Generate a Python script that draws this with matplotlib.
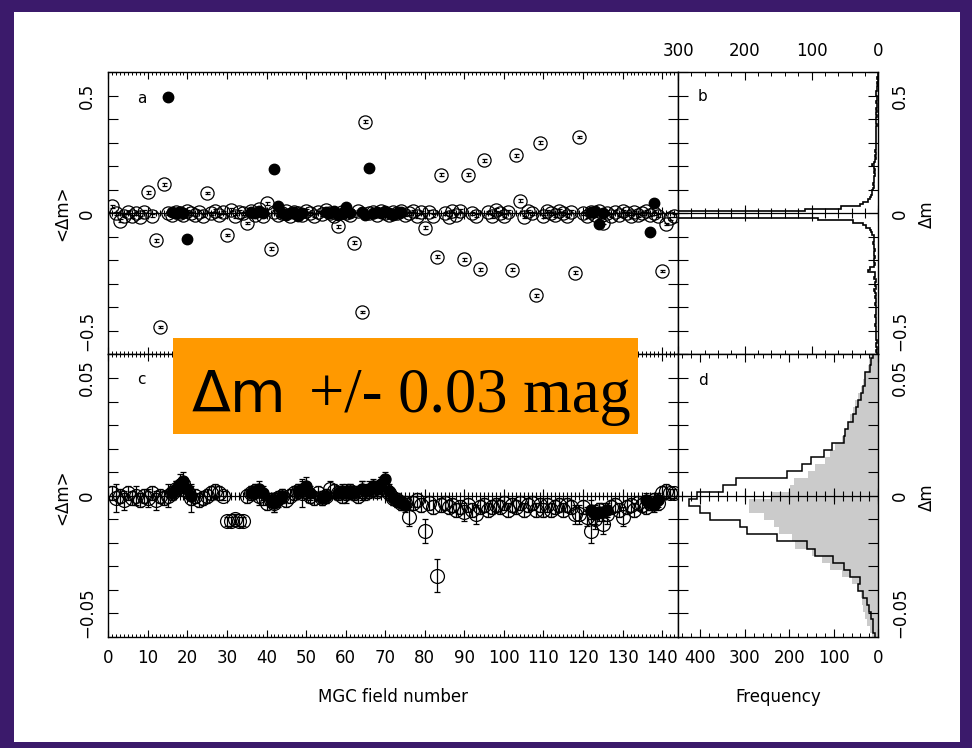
import numpy as np
import matplotlib
matplotlib.use("Agg")
import matplotlib.pyplot as plt
from matplotlib.patches import Rectangle
from matplotlib.ticker import MultipleLocator, FuncFormatter

# ---------------- data ----------------
# Panel a: <dm> per MGC field (open circles), fields 1..143
fields_a = list(range(1, 144))
dm_a_open = [
    0.030, 0.000, -0.031, -0.010, 0.005, -0.012, 0.000, -0.015, 0.008, 0.090,
    -0.010, -0.114, -0.483, 0.123, 0.000, -0.005, 0.005, 0.000, -0.008, 0.010,
    0.000, -0.006, 0.008, -0.010, 0.087, 0.000, 0.012, -0.008, 0.005, -0.092,
    0.015, -0.012, 0.008, 0.000, -0.041, 0.010, -0.005, 0.018, -0.010, 0.043,
    -0.150, 0.008, -0.006, 0.000, 0.010, -0.012, 0.005, 0.000, -0.008, 0.012,
    0.000, -0.010, 0.006, -0.004, 0.015, 0.000, -0.010, -0.055, 0.008, 0.000,
    -0.006, -0.124, 0.010, -0.419, 0.390, 0.000, 0.008, -0.005, 0.010, 0.000,
    -0.008, 0.005, 0.000, 0.012, -0.006, 0.000, 0.010, -0.012, 0.005, -0.060,
    0.008, -0.010, -0.185, 0.165, 0.000, -0.015, 0.010, -0.008, 0.012, -0.195,
    0.165, 0.000, -0.010, -0.238, 0.225, 0.005, -0.012, 0.015, 0.000, -0.010,
    0.008, -0.240, 0.247, 0.054, -0.015, 0.010, 0.000, -0.349, 0.300, -0.012,
    0.010, 0.000, -0.008, 0.012, 0.000, -0.010, 0.008, -0.252, 0.325, 0.000,
    -0.012, 0.006, -0.008, 0.010, -0.040, 0.000, -0.010, 0.008, -0.006, 0.010,
    0.000, -0.012, 0.005, -0.008, 0.000, 0.010, -0.006, 0.000, -0.010, -0.245,
    -0.045, -0.020, -0.010,
]
# Panel a: filled circles
fields_a_fill = [15, 16, 17, 18, 19, 20, 36, 37, 38, 39, 42, 43, 44, 45, 46, 47,
                 48, 49, 55, 56, 57, 58, 59, 60, 61, 64, 65, 66, 67, 68, 69, 70,
                 71, 72, 73, 74, 122, 123, 124, 125, 137, 138]
dm_a_fill = [0.496, 0.005, 0.000, 0.008, 0.000, -0.110, 0.005, 0.000, 0.010, 0.000,
             0.190, 0.030, 0.000, -0.005, 0.000, 0.005, -0.010, 0.000, 0.005, 0.000,
             0.010, -0.005, 0.000, 0.026, 0.000, 0.005, -0.005, 0.194, 0.000, 0.005,
             0.000, 0.010, 0.000, -0.005, 0.000, 0.005, 0.005, 0.010, -0.045, 0.000,
             -0.081, 0.043]

# Panel c: corrected <dm> per field (open circles) with errors
dm_c_open = [
    0.001, -0.001, 0.000, -0.002, 0.001, -0.001, 0.000, -0.002, 0.000, -0.001,
    0.001, -0.002, 0.000, -0.001, 0.000, 0.001, 0.003, 0.004, 0.005, 0.002,
    -0.001, 0.000, -0.002, -0.001, 0.000, 0.001, 0.002, 0.001, 0.000, -0.011,
    -0.011, -0.010, -0.011, -0.011, 0.000, 0.001, 0.002, 0.000, -0.001, -0.003,
    -0.002, -0.003, -0.001, 0.000, -0.002, 0.000, 0.001, 0.002, 0.001, 0.002,
    0.000, -0.001, 0.001, -0.001, 0.000, 0.003, 0.002, 0.001, 0.000, 0.001,
    0.002, 0.001, 0.000, 0.002, 0.001, 0.002, 0.003, 0.002, 0.004, 0.003,
    0.001, -0.001, -0.002, -0.003, -0.003, -0.009, -0.003, -0.002, -0.004, -0.015,
    -0.003, -0.005, -0.034, -0.004, -0.003, -0.005, -0.004, -0.006, -0.005, -0.007,
    -0.004, -0.006, -0.008, -0.005, -0.004, -0.006, -0.005, -0.004, -0.005, -0.003,
    -0.006, -0.004, -0.005, -0.003, -0.006, -0.004, -0.003, -0.006, -0.004, -0.006,
    -0.004, -0.006, -0.005, -0.004, -0.006, -0.004, -0.005, -0.008, -0.008, -0.005,
    -0.009, -0.015, -0.010, -0.006, -0.012, -0.008, -0.005, -0.004, -0.006, -0.009,
    -0.005, -0.004, -0.006, -0.003, -0.004, -0.005, -0.003, -0.002, -0.003, 0.001,
    0.002, 0.001, 0.001,
]
err_c_open = [
    0.003, 0.006, 0.003, 0.004, 0.003, 0.003, 0.004, 0.003, 0.003, 0.004,
    0.003, 0.004, 0.003, 0.003, 0.005, 0.003, 0.003, 0.003, 0.003, 0.003,
    0.006, 0.003, 0.003, 0.003, 0.003, 0.003, 0.003, 0.003, 0.002, 0.002,
    0.002, 0.002, 0.002, 0.002, 0.003, 0.003, 0.003, 0.004, 0.003, 0.003,
    0.003, 0.004, 0.003, 0.003, 0.003, 0.003, 0.003, 0.003, 0.006, 0.003,
    0.003, 0.003, 0.003, 0.003, 0.003, 0.003, 0.003, 0.003, 0.003, 0.004,
    0.003, 0.003, 0.003, 0.004, 0.003, 0.003, 0.003, 0.003, 0.004, 0.003,
    0.003, 0.003, 0.003, 0.003, 0.003, 0.004, 0.003, 0.003, 0.003, 0.005,
    0.003, 0.003, 0.007, 0.003, 0.003, 0.003, 0.003, 0.003, 0.003, 0.004,
    0.003, 0.003, 0.004, 0.003, 0.003, 0.003, 0.003, 0.003, 0.003, 0.003,
    0.003, 0.003, 0.003, 0.003, 0.003, 0.003, 0.003, 0.003, 0.003, 0.003,
    0.003, 0.003, 0.003, 0.003, 0.003, 0.003, 0.003, 0.004, 0.004, 0.003,
    0.004, 0.005, 0.004, 0.003, 0.0045, 0.004, 0.003, 0.003, 0.003, 0.004,
    0.003, 0.003, 0.003, 0.003, 0.003, 0.003, 0.003, 0.003, 0.003, 0.003,
    0.003, 0.002, 0.002,
]
# Panel c: filled circles
fields_c_fill = [16, 17, 18, 19, 20, 21, 36, 37, 38, 39, 41, 42, 43, 44, 48, 49,
                 50, 51, 54, 55, 58, 59, 60, 61, 62, 64, 65, 66, 67, 68, 69, 70,
                 71, 72, 73, 74, 75, 122, 123, 124, 125, 126, 136, 137, 138, 139]
dm_c_fill = [0.001, 0.003, 0.005, 0.006, 0.003, 0.000, 0.001, 0.002, 0.003, 0.001,
             -0.002, -0.003, -0.002, 0.000, 0.002, 0.003, 0.004, 0.001, -0.001, 0.000,
             0.001, 0.002, 0.001, 0.002, 0.001, 0.003, 0.002, 0.003, 0.004, 0.003,
             0.005, 0.007, 0.002, -0.001, -0.002, -0.003, -0.004, -0.006, -0.008, -0.007,
             -0.007, -0.006, -0.002, -0.003, -0.004, -0.002]
err_c_fill = [0.003, 0.003, 0.004, 0.004, 0.003, 0.004, 0.003, 0.003, 0.003, 0.003,
              0.003, 0.004, 0.003, 0.003, 0.003, 0.003, 0.004, 0.003, 0.003, 0.003,
              0.003, 0.003, 0.003, 0.003, 0.003, 0.003, 0.003, 0.003, 0.003, 0.003,
              0.003, 0.003, 0.003, 0.003, 0.003, 0.003, 0.003, 0.004, 0.004, 0.004,
              0.004, 0.003, 0.003, 0.003, 0.003, 0.003]

# Panel b: histogram of dm (bin width 0.01, -0.6 .. 0.6)
edges_b = [round(-0.60 + 0.01 * i, 2) for i in range(121)]
counts_b = [
    2, 3, 2, 4, 3, 2, 3, 4, 3, 3,
    4, 3, 5, 4, 3, 4, 5, 4, 3, 4,
    4, 5, 4, 3, 5, 4, 5, 6, 4, 5,
    5, 4, 6, 5, 5, 15, 12, 6, 5, 6,
    6, 5, 7, 6, 5, 7, 6, 8, 7, 6,
    7, 9, 11, 13, 18, 23, 38, 90, 320, 900,
    900, 110, 56, 28, 23, 15, 13, 11, 10, 9,
    8, 7, 8, 6, 7, 6, 5, 6, 5, 6,
    10, 6, 5, 4, 5, 4, 5, 4, 3, 4,
    4, 3, 4, 3, 3, 4, 3, 2, 3, 3,
    3, 2, 3, 2, 3, 2, 2, 3, 2, 2,
    4, 3, 2, 2, 1, 2, 1, 2, 1, 1,
]

# Panel d: histograms of dm in +-0.06 (bin width 0.003)
edges_d = [round(-0.0615 + 0.003 * i, 4) for i in range(42)]
counts_d_line = [
    7, 11, 13, 16, 22, 26, 34, 45, 41, 63,
    78, 101, 143, 160, 228, 295, 310, 377, 400, 425,
    407,
    350, 319, 205, 172, 151, 121, 104, 78, 75, 67,
    56, 51, 45, 39, 34, 30, 30, 19, 16, 13,
]
counts_d_gray = [
    15, 19, 26, 30, 34, 37, 39, 45, 60, 82,
    108, 127, 149, 187, 194, 224, 235, 257, 291, 291,
    240,
    198, 190, 157, 142, 119, 108, 97, 82, 75, 67,
    63, 56, 52, 45, 38, 34, 30, 24, 22, 19,
]

# ---------------- layout ----------------
W, H = 972.0, 748.0
def fx(px):
    return px / W
def fy(py):
    return 1.0 - py / H

plt.rcParams['font.family'] = ['DejaVu Sans']
plt.rcParams['axes.linewidth'] = 1.0

fig = plt.figure(figsize=(9.72, 7.48), dpi=100)
fig.patch.set_facecolor('#3b1a6b')
fig.add_artist(Rectangle((fx(14), fy(742)), fx(960) - fx(14), fy(12) - fy(742),
                         transform=fig.transFigure, facecolor='white',
                         edgecolor='none', zorder=-5))

L, M, R = 108.3, 678.0, 878.3
T, MID, B = 72.3, 354.5, 636.7

axa = fig.add_axes([fx(L), fy(MID), fx(M) - fx(L), fy(T) - fy(MID)])
axc = fig.add_axes([fx(L), fy(B), fx(M) - fx(L), fy(MID) - fy(B)])
axb = fig.add_axes([fx(M), fy(MID), fx(R) - fx(M), fy(T) - fy(MID)])
axd = fig.add_axes([fx(M), fy(B), fx(R) - fx(M), fy(MID) - fy(B)])

FS = 12

def ylab_fmt(vals):
    def f(v, p):
        for val, s in vals:
            if abs(v - val) < 1e-9:
                return s
        return ''
    return FuncFormatter(f)

def zero_line(ax, xmin, xmax, minor_step, major_step, ms_min, ms_maj):
    ax.axhline(0, color='k', lw=0.9, zorder=1)
    lo, hi = min(xmin, xmax), max(xmin, xmax)
    mn = np.arange(lo, hi + 1e-9, minor_step)
    mj = np.arange(lo, hi + 1e-9, major_step)
    ax.plot(mn, np.zeros_like(mn), ls='none', marker='|', ms=ms_min, mew=0.8,
            color='k', zorder=1)
    ax.plot(mj, np.zeros_like(mj), ls='none', marker='|', ms=ms_maj, mew=0.8,
            color='k', zorder=1)

# ----- panel a -----
axa.set_xlim(0, 144)
axa.set_ylim(-0.6, 0.6)
zero_line(axa, 0, 144, 1, 10, 5, 9)
axa.errorbar(fields_a, dm_a_open, yerr=0.006, fmt='o', mfc='none', mec='k',
             ms=9.5, mew=0.9, ecolor='k', elinewidth=0.8, capsize=1.8,
             capthick=0.8, zorder=3)
axa.plot(fields_a_fill, dm_a_fill, 'o', color='k', ms=7.5, zorder=4)
axa.text(8.4, 0.49, 'a', fontsize=11, ha='center', va='center')

# ----- panel c -----
axc.set_xlim(0, 144)
axc.set_ylim(-0.06, 0.06)
zero_line(axc, 0, 144, 1, 10, 6, 10)
axc.errorbar(fields_a, dm_c_open, yerr=err_c_open, fmt='o', mfc='none', mec='k',
             ms=10, mew=0.9, ecolor='k', elinewidth=0.9, capsize=2.5,
             capthick=0.9, zorder=3)
axc.errorbar(fields_c_fill, dm_c_fill, yerr=err_c_fill, fmt='o', mfc='k', mec='k',
             ms=8, mew=0.9, ecolor='k', elinewidth=0.9, capsize=2.5,
             capthick=0.9, zorder=4)
axc.text(8.4, 0.0495, 'c', fontsize=11, ha='center', va='center')

for ax in (axa, axc):
    ax.xaxis.set_major_locator(MultipleLocator(10))
    ax.xaxis.set_minor_locator(MultipleLocator(1))
    ax.tick_params(axis='x', which='major', direction='in', top=True, bottom=True,
                   length=5, width=0.8, labelsize=FS, pad=9)
    ax.tick_params(axis='x', which='minor', direction='in', top=True, bottom=True,
                   length=2.5, width=0.7)
    ax.tick_params(axis='y', which='major', direction='in', left=True, right=True,
                   length=7, width=0.8, labelsize=FS, pad=9)
axa.yaxis.set_major_locator(MultipleLocator(0.1))
axa.yaxis.set_major_formatter(ylab_fmt([(0.5, '0.5'), (0.0, '0'), (-0.5, '\u22120.5')]))
axc.yaxis.set_major_locator(MultipleLocator(0.01))
axc.yaxis.set_major_formatter(ylab_fmt([(0.05, '0.05'), (0.0, '0'), (-0.05, '\u22120.05')]))
axa.tick_params(axis='x', labelbottom=False)
axc.set_xticks(range(0, 141, 10))
axc.set_xticklabels([str(v) for v in range(0, 141, 10)])
for ax in (axa, axc):
    for lab in ax.get_yticklabels():
        lab.set_rotation(90)
        lab.set_va('center')

# ----- panel b -----
axb.set_xlim(300, 0)
axb.set_ylim(-0.6, 0.6)
zero_line(axb, 0, 300, 20, 100, 7, 12)
axb.stairs(counts_b, edges_b, orientation='horizontal', baseline=None,
           color='k', lw=1.2, zorder=3)
axb.text(263, 0.495, 'b', fontsize=11, ha='center', va='center')

# ----- panel d -----
axd.set_xlim(450, 0)
axd.set_ylim(-0.06, 0.06)
axd.stairs(counts_d_gray, edges_d, orientation='horizontal', fill=True,
           color='#cbcbcb', lw=0, zorder=1)
zero_line(axd, 0, 440, 20, 100, 7, 12)
axd.stairs(counts_d_line, edges_d, orientation='horizontal', baseline=None,
           color='k', lw=1.1, zorder=3)
axd.text(393, 0.049, 'd', fontsize=11, ha='center', va='center')

for ax in (axb, axd):
    ax.xaxis.set_major_locator(MultipleLocator(100))
    ax.xaxis.set_minor_locator(MultipleLocator(20))
    ax.tick_params(axis='x', which='major', direction='in', top=True, bottom=True,
                   length=6, width=0.8, labelsize=FS, pad=9)
    ax.tick_params(axis='x', which='minor', direction='in', top=True, bottom=True,
                   length=3, width=0.7)
    ax.tick_params(axis='y', which='major', direction='in', left=True, right=True,
                   length=7, width=0.8, labelsize=FS, pad=9,
                   labelleft=False, labelright=True)
axb.tick_params(axis='x', labeltop=True, labelbottom=False)
axb.set_xticks([300, 200, 100, 0])
axb.set_xticklabels(['300', '200', '100', '0'])
axd.set_xticks([400, 300, 200, 100, 0])
axd.set_xticklabels(['400', '300', '200', '100', '0'])
axb.yaxis.set_major_locator(MultipleLocator(0.1))
axb.yaxis.set_major_formatter(ylab_fmt([(0.5, '0.5'), (0.0, '0'), (-0.5, '\u22120.5')]))
axd.yaxis.set_major_locator(MultipleLocator(0.01))
axd.yaxis.set_major_formatter(ylab_fmt([(0.05, '0.05'), (0.0, '0'), (-0.05, '\u22120.05')]))
for ax in (axb, axd):
    for lab in ax.get_yticklabels():
        lab.set_rotation(90)
        lab.set_va('center')

# ----- axis titles -----
fig.text(fx(62), fy(213), '<\u0394m>', rotation=90, ha='center', va='center', fontsize=FS)
fig.text(fx(62), fy(497), '<\u0394m>', rotation=90, ha='center', va='center', fontsize=FS)
fig.text(fx(927), fy(214), '\u0394m', rotation=90, ha='center', va='center', fontsize=FS)
fig.text(fx(927), fy(497), '\u0394m', rotation=90, ha='center', va='center', fontsize=FS)
fig.text(fx(393), fy(697), 'MGC field number', ha='center', va='center', fontsize=FS)
fig.text(fx(778), fy(697), 'Frequency', ha='center', va='center', fontsize=FS)

# ----- orange annotation box -----
fig.add_artist(Rectangle((fx(173.3), fy(434.3)), fx(638.3) - fx(173.3),
                         fy(337.7) - fy(434.3), transform=fig.transFigure,
                         facecolor='#ff9900', edgecolor='none', zorder=10))
fig.text(fx(192), fy(412), '\u0394m', ha='left', va='baseline', fontsize=41,
         family=['DejaVu Sans'], zorder=11)
fig.text(fx(631), fy(412), '+/- 0.03 mag', ha='right', va='baseline', fontsize=45,
         family=['Liberation Serif'], zorder=11)

fig.savefig('out.png', dpi=100, facecolor=fig.get_facecolor())
